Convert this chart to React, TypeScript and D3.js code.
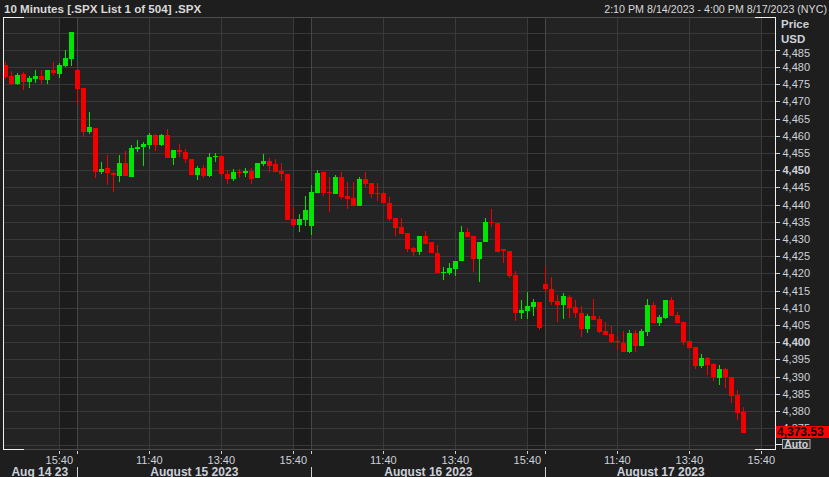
import React from 'react';
import * as d3 from 'd3';

// ---- Data (10-minute SPX bars) ----
const openP = [
  4480.6, 4477.4, 4475.1, 4478.0, 4475.6, 4476.4, 4477.4, 4476.2, 4479.1, 4478.0, 4480.3, 4482.4,
  4479.1, 4473.9, 4461.0, 4462.3, 4449.6, 4450.6, 4449.3, 4448.3, 4452.1, 4448.1, 4456.2, 4456.8,
  4457.3, 4460.3, 4457.3, 4460.2, 4453.6, 4455.9, 4455.4, 4453.2, 4448.6, 4450.7, 4448.3, 4453.7,
  4454.1, 4448.8, 4447.4, 4449.6, 4449.2, 4449.8, 4447.6, 4451.7, 4452.7, 4451.7, 4449.9, 4448.9,
  4435.9, 4434.1, 4435.5, 4433.9, 4443.3, 4449.5, 4443.8, 4443.1, 4448.1, 4442.5, 4441.8, 4439.6,
  4447.5, 4446.4, 4443.5, 4443.3, 4440.4, 4436.2, 4433.6, 4431.8, 4427.3, 4426.3, 4430.9, 4429.0,
  4425.8, 4420.0, 4420.2, 4421.2, 4423.6, 4432.1, 4430.9, 4424.2, 4429.0, 4435.0, 4434.6, 4427.0,
  4426.6, 4419.4, 4408.6, 4409.1, 4410.3, 4411.8, 4416.8, 4415.5, 4412.0, 4410.8, 4413.2, 4410.3,
  4408.6, 4403.8, 4407.7, 4406.7, 4403.3, 4402.4, 4400.4, 4399.7, 4397.2, 4402.8, 4398.9, 4403.1,
  4410.8, 4405.5, 4406.9, 4412.3, 4407.9, 4406.0, 4400.3, 4398.7, 4393.2, 4395.5, 4393.7, 4389.7,
  4392.3, 4390.0, 4384.6, 4379.8,
];
const highP = [
  4481.5, 4478.9, 4478.3, 4478.6, 4477.4, 4479.1, 4479.1, 4479.1, 4481.5, 4481.1, 4484.9, 4490.2,
  4479.1, 4473.9, 4466.9, 4462.3, 4452.3, 4454.4, 4449.5, 4454.4, 4455.7, 4457.3, 4458.8, 4458.3,
  4460.9, 4460.6, 4460.6, 4462.1, 4455.9, 4457.6, 4456.1, 4453.2, 4451.3, 4451.4, 4454.9, 4455.1,
  4454.1, 4450.1, 4450.3, 4450.3, 4450.7, 4450.7, 4452.2, 4454.7, 4453.5, 4453.2, 4452.2, 4448.9,
  4439.2, 4437.3, 4442.5, 4445.7, 4450.1, 4449.5, 4448.1, 4448.6, 4449.6, 4446.7, 4446.7, 4448.1,
  4449.6, 4446.4, 4446.2, 4443.8, 4442.3, 4436.2, 4436.0, 4431.8, 4427.8, 4430.9, 4432.4, 4429.0,
  4428.3, 4422.0, 4422.9, 4423.7, 4433.8, 4433.1, 4430.9, 4429.0, 4436.0, 4438.6, 4434.6, 4427.0,
  4426.6, 4420.8, 4412.3, 4414.7, 4412.6, 4411.8, 4421.8, 4418.9, 4413.7, 4414.2, 4413.7, 4412.3,
  4410.5, 4408.1, 4412.6, 4407.7, 4406.0, 4404.7, 4401.8, 4403.3, 4403.5, 4403.5, 4403.9, 4412.6,
  4411.6, 4407.9, 4412.3, 4413.1, 4408.7, 4406.0, 4400.3, 4398.7, 4396.5, 4395.8, 4393.9, 4393.4,
  4392.6, 4390.0, 4386.1, 4381.2,
];
const lowP = [
  4476.6, 4474.8, 4474.9, 4473.3, 4474.0, 4475.4, 4475.0, 4475.0, 4477.7, 4476.9, 4480.1, 4480.3,
  4469.0, 4459.6, 4460.5, 4447.8, 4448.9, 4445.7, 4443.8, 4446.7, 4448.3, 4448.1, 4455.4, 4451.3,
  4456.2, 4455.7, 4457.0, 4453.6, 4451.5, 4453.7, 4452.0, 4448.6, 4447.2, 4447.8, 4448.1, 4452.5,
  4448.2, 4445.9, 4446.9, 4447.7, 4448.1, 4446.0, 4447.6, 4451.2, 4449.6, 4449.4, 4446.9, 4435.5,
  4433.6, 4432.1, 4433.9, 4431.2, 4443.3, 4442.4, 4437.9, 4443.1, 4441.6, 4438.7, 4439.6, 4439.6,
  4445.0, 4441.8, 4441.0, 4440.4, 4435.3, 4431.0, 4431.5, 4426.2, 4425.1, 4425.4, 4428.5, 4425.8,
  4420.0, 4418.1, 4419.5, 4419.2, 4423.6, 4430.7, 4420.5, 4417.4, 4429.0, 4433.6, 4426.3, 4423.1,
  4418.6, 4406.2, 4406.7, 4406.7, 4407.7, 4403.6, 4414.2, 4410.8, 4406.0, 4406.7, 4407.1, 4406.9,
  4401.4, 4402.8, 4406.5, 4402.8, 4402.1, 4399.9, 4397.7, 4397.2, 4397.0, 4397.2, 4398.9, 4401.8,
  4405.5, 4404.7, 4406.7, 4407.6, 4405.7, 4399.2, 4398.0, 4392.2, 4392.4, 4390.5, 4388.8, 4387.6,
  4386.8, 4382.2, 4377.4, 4373.5,
];
const closeP = [
  4477.2, 4475.1, 4477.7, 4475.6, 4476.9, 4477.5, 4476.2, 4479.1, 4478.2, 4480.5, 4482.6, 4490.2,
  4473.7, 4461.2, 4462.6, 4449.6, 4450.4, 4449.1, 4448.6, 4452.1, 4448.3, 4456.5, 4456.8, 4457.6,
  4460.3, 4457.3, 4460.3, 4453.6, 4455.9, 4455.4, 4453.2, 4448.6, 4450.7, 4448.3, 4453.7, 4454.2,
  4448.8, 4447.4, 4449.5, 4449.3, 4449.8, 4447.4, 4452.2, 4452.7, 4451.2, 4449.4, 4448.8, 4435.5,
  4434.1, 4435.9, 4438.4, 4443.7, 4449.1, 4443.5, 4443.3, 4448.1, 4442.3, 4441.6, 4439.6, 4447.5,
  4446.0, 4443.1, 4443.1, 4440.4, 4435.8, 4433.3, 4431.5, 4427.0, 4426.3, 4430.9, 4428.5, 4425.8,
  4420.2, 4420.5, 4421.7, 4423.7, 4432.1, 4430.7, 4424.2, 4429.0, 4434.8, 4434.6, 4426.3, 4426.5,
  4419.2, 4408.6, 4409.4, 4410.5, 4411.8, 4404.0, 4415.4, 4411.8, 4410.8, 4413.5, 4410.0, 4408.4,
  4403.8, 4407.7, 4406.5, 4403.1, 4402.1, 4400.1, 4400.1, 4397.2, 4402.8, 4398.9, 4403.3, 4410.8,
  4405.5, 4407.2, 4412.3, 4407.6, 4405.7, 4400.1, 4398.4, 4393.2, 4395.5, 4393.4, 4390.0, 4392.2,
  4390.0, 4384.5, 4379.5, 4373.53,
];

// Session layout: Aug 14 starts 14:10, later days 9:40; every session ends 16:00
const dayLabels = ['Aug 14 23', 'August 15 2023', 'August 16 2023', 'August 17 2023'];
const dayFirstBar = ['14:10', '9:40', '9:40', '9:40'];
const sessionEnd = '16:00';
const timeTicks = ['11:40', '13:40', '15:40'];
const shadeFrom = '15:40';
const priceTicks = d3.range(4370, 4491, 5);
const priceLabels = d3.range(4375, 4486, 5);
const lastPrice = 4373.53;
const headerLeft = '10 Minutes [.SPX List 1 of 504] .SPX';
const headerRight = '2:10 PM 8/14/2023 - 4:00 PM 8/17/2023 (NYC)';

const W = 829;
const H = 477;
const PL = 3, PR = 775, PT = 17, PB = 449;
const FONT = '"Liberation Sans", Arial, sans-serif';
const UP = '#00e600';
const DOWN = '#f20000';
const TXT = '#cdd1da';

function toMin(t: string) {
  const [h, m] = t.split(':').map(Number);
  return h * 60 + m;
}
function fmtT(m: number) {
  return `${Math.floor(m / 60)}:${String(m % 60).padStart(2, '0')}`;
}

type Slot = { day: number; time: string };
const slots: Slot[] = [];
dayFirstBar.forEach((t0, day) => {
  for (let m = toMin(t0); m <= toMin(sessionEnd); m += 10) slots.push({ day, time: fmtT(m) });
});

export default function App() {
  const x = d3.scaleBand<number>().domain(d3.range(slots.length)).range([2.3, 776.3]).padding(0);
  const bw = x.bandwidth();
  const cx = (i: number) => (x(i) as number) + bw / 2;
  const y = d3.scaleLinear().domain([4380, 4480]).range([411, 67]);

  const dayStart = dayLabels.map((_, d) => slots.findIndex((s) => s.day === d));
  const sepX = dayStart.map((i, d) => (d === 0 ? 2.3 : cx(i)));
  const dayEndX = dayLabels.map((_, d) => (d < dayLabels.length - 1 ? sepX[d + 1] : 776));

  const tickSlots = slots
    .map((s, i) => ({ ...s, i }))
    .filter((s) => timeTicks.includes(s.time));
  const shadeStarts = slots
    .map((s, i) => ({ ...s, i }))
    .filter((s) => s.time === shadeFrom);

  const candles = openP.map((o, i) => ({ i, o, h: highP[i], l: lowP[i], c: closeP[i] }));
  const bodyW = 5;
  const tagTop = 426;

  return (
    <svg
      width={W}
      height={H}
      style={{ position: 'absolute', left: 0, top: 0, display: 'block' }}
      fontFamily={FONT}
    >
      <defs>
        <clipPath id="plotClip">
          <rect x={PL} y={PT} width={PR - PL} height={PB - PT} />
        </clipPath>
        <clipPath id="axisClip">
          <rect x={776} y={0} width={53} height={tagTop} />
        </clipPath>
      </defs>
      <rect x={0} y={0} width={W} height={H} fill="#1e1e1e" />
      <rect x={PL} y={PT} width={PR - PL} height={PB - PT} fill="#232323" />

      {/* header */}
      <text x={4} y={12.5} fill="#d9d9d9" fontSize={11.6} fontWeight="bold">
        {headerLeft}
      </text>
      <text x={827} y={12.5} fill="#d9d9d9" fontSize={10.7} textAnchor="end">
        {headerRight}
      </text>

      <g clipPath="url(#plotClip)">
        {/* after-hours shading */}
        {shadeStarts.map((s) => (
          <rect
            key={'sh' + s.i}
            x={cx(s.i)}
            y={PT}
            width={dayEndX[s.day] - cx(s.i)}
            height={PB - PT}
            fill="#1c1c1c"
          />
        ))}
        {/* horizontal grid */}
        {priceTicks.map((p) => (
          <line
            key={'g' + p}
            x1={PL}
            x2={PR}
            y1={Math.round(y(p)) + 0.5}
            y2={Math.round(y(p)) + 0.5}
            stroke="#383838"
            strokeWidth={1}
          />
        ))}
        {/* vertical grid */}
        {tickSlots.map((s) => (
          <line
            key={'v' + s.i}
            x1={Math.round(cx(s.i)) + 0.5}
            x2={Math.round(cx(s.i)) + 0.5}
            y1={PT}
            y2={PB}
            stroke="#3a3a3a"
          />
        ))}
        {sepX.slice(1).map((sx, d) => (
          <line
            key={'sep' + d}
            x1={Math.round(sx) + 0.5}
            x2={Math.round(sx) + 0.5}
            y1={PT}
            y2={PB}
            stroke="#464646"
          />
        ))}
        {/* candles */}
        <g shapeRendering="crispEdges">
          {candles.map((k) => {
            const up = k.c >= k.o;
            const col = up ? UP : DOWN;
            const c = Math.round(cx(k.i));
            const top = y(Math.max(k.o, k.c));
            const bot = y(Math.min(k.o, k.c));
            return (
              <g key={'c' + k.i}>
                <rect x={c} y={y(k.h)} width={1} height={Math.max(1, y(k.l) - y(k.h))} fill={col} />
                <rect x={c - 2} y={top} width={bodyW} height={Math.max(1.2, bot - top)} fill={col} />
              </g>
            );
          })}
        </g>
      </g>

      {/* plot frame */}
      <g shapeRendering="crispEdges">
        <line x1={PL} x2={PR} y1={PT + 0.5} y2={PT + 0.5} stroke="#4c4c4c" />
        <line x1={PL} x2={PR} y1={PB + 0.5} y2={PB + 0.5} stroke="#4c4c4c" />
        <line x1={PL} x2={24} y1={PT + 0.5} y2={PT + 0.5} stroke="#f0f0f0" />
        <line x1={PL} x2={24} y1={PB + 0.5} y2={PB + 0.5} stroke="#f0f0f0" />
        <line x1={755} x2={PR + 1} y1={PT + 0.5} y2={PT + 0.5} stroke="#f0f0f0" />
        <line x1={755} x2={PR + 1} y1={PB + 0.5} y2={PB + 0.5} stroke="#f0f0f0" />
        <line x1={PL + 0.5} x2={PL + 0.5} y1={PT} y2={PB + 1} stroke="#f0f0f0" />
        <line x1={PR + 0.5} x2={PR + 0.5} y1={PT} y2={PB + 1} stroke="#f0f0f0" />
      </g>

      {/* right price axis */}
      <text x={781} y={28} fill={TXT} fontSize={11.5} fontWeight="bold">Price</text>
      <text x={781} y={43} fill={TXT} fontSize={11.5} fontWeight="bold">USD</text>
      <g shapeRendering="crispEdges">
        {priceLabels.map((p) => (
          <line
            key={'yt' + p}
            x1={776}
            x2={780}
            y1={Math.round(y(p)) + 0.5}
            y2={Math.round(y(p)) + 0.5}
            stroke={TXT}
          />
        ))}
      </g>
      <g clipPath="url(#axisClip)">
        {priceLabels.map((p) => (
          <text
            key={'yl' + p}
            x={782.5}
            y={Math.max(y(p), 53) + 4}
            fill={TXT}
            fontSize={11}
            fontWeight={p % 50 === 0 ? 'bold' : 'normal'}
          >
            {d3.format(',')(p)}
          </text>
        ))}
      </g>
      <rect x={776} y={tagTop} width={53} height={12} fill="#ff0000" />
      <text x={777} y={436.3} fill="#000" fontSize={12} fontWeight="bold">
        {d3.format(',.2f')(lastPrice)}
      </text>
      <line x1={776} x2={782} y1={444.5} y2={444.5} stroke="#f0f0f0" />
      <rect x={782.5} y={439.5} width={27.5} height={9} fill="#2a2a2a" stroke="#a8a8a8" />
      <text x={796.2} y={447.8} fill={TXT} fontSize={10.5} fontWeight="bold" textAnchor="middle">
        Auto
      </text>

      {/* bottom time axis */}
      <g shapeRendering="crispEdges">
        {tickSlots.map((s) => (
          <line
            key={'xt' + s.i}
            x1={Math.round(cx(s.i)) + 0.5}
            x2={Math.round(cx(s.i)) + 0.5}
            y1={451}
            y2={454}
            stroke={TXT}
          />
        ))}
        {sepX.slice(1).map((sx, d) => (
          <g key={'xs' + d}>
            <line x1={Math.round(sx) + 0.5} x2={Math.round(sx) + 0.5} y1={451} y2={454} stroke={TXT} />
            <line x1={Math.round(sx) + 0.5} x2={Math.round(sx) + 0.5} y1={467} y2={477} stroke={TXT} />
          </g>
        ))}
      </g>
      {tickSlots.map((s) => (
        <text key={'xl' + s.i} x={cx(s.i)} y={464} fill={TXT} fontSize={11} textAnchor="middle">
          {s.time}
        </text>
      ))}
      {dayLabels.map((lab, d) => (
        <text
          key={'dl' + d}
          x={(sepX[d] + dayEndX[d]) / 2}
          y={476}
          fill={TXT}
          fontSize={12}
          fontWeight="bold"
          textAnchor="middle"
        >
          {lab}
        </text>
      ))}
    </svg>
  );
}
